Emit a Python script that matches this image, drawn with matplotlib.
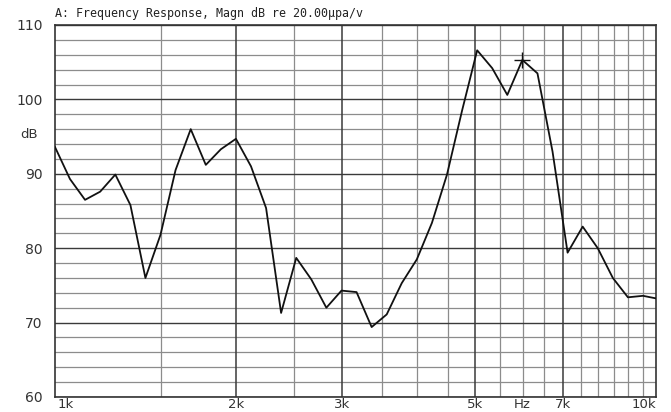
import matplotlib
matplotlib.use("Agg")
import matplotlib.pyplot as plt
from matplotlib.ticker import FixedLocator, NullFormatter

# Frequencies (Hz), 1/12-octave points
freqs = [1000, 1059, 1122, 1189, 1260, 1335, 1414, 1498, 1587, 1682, 1782, 1888,
         2000, 2119, 2245, 2378, 2520, 2670, 2828, 2997, 3175, 3364, 3564, 3775,
         4000, 4238, 4490, 4757, 5040, 5339, 5657, 5993, 6350, 6727, 7127, 7551,
         8000, 8476, 8980, 9514, 10079]
# Magnitude (dB)
magn = [93.6, 89.3, 86.5, 87.6, 89.9, 85.8, 76.0, 81.8, 90.5, 96.0, 91.2, 93.3,
        94.7, 91.0, 85.4, 71.3, 78.7, 75.8, 72.0, 74.3, 74.1, 69.4, 71.1, 75.3,
        78.5, 83.4, 89.9, 98.5, 106.6, 104.2, 100.6, 105.3, 103.5, 93.0, 79.4, 82.9,
        80.0, 76.0, 73.4, 73.6, 73.2]

cursor_f = 5993
cursor_db = 105.3

x_major = [2000, 3000, 5000, 7000]
x_minor = [1500, 2500, 3500, 4000, 4500, 5500, 6000, 6500, 7500, 8000, 8500, 9000, 9500]
x_label_pos = [1000, 2000, 3000, 5000, 6000, 7000, 10000]
x_label_txt = ["1k", "2k", "3k", "5k", "Hz", "7k", "10k"]
y_major = [60, 70, 80, 90, 100, 110]
y_minor = [62, 64, 66, 68, 72, 74, 76, 78, 82, 84, 86, 88, 92, 94, 96, 98, 102, 104, 106, 108]

title = "A: Frequency Response, Magn dB re 20.00\u00b5pa/v"

fig = plt.figure(figsize=(6.71, 4.12), dpi=100)
ax = fig.add_axes([55/671, 1-397/412, (656-55)/671, (397-25)/412])
ax.set_xscale("log")
ax.set_xlim(1000, 10000)
ax.set_ylim(60, 110)

major_c = "#3a3a3a"
minor_c = "#8c8c8c"
for v in y_minor:
    ax.axhline(v, color=minor_c, lw=0.9, zorder=1)
for v in y_major:
    ax.axhline(v, color=major_c, lw=1.0, zorder=1.5)
for v in x_minor:
    ax.axvline(v, color=minor_c, lw=0.9, zorder=1)
for v in x_major:
    ax.axvline(v, color=major_c, lw=1.1, zorder=1.5)

ax.plot(freqs, magn, color="#111111", lw=1.3, zorder=3, clip_on=True)
ax.plot([cursor_f], [cursor_db], marker="+", color="#111111", ms=11, mew=1.0,
        zorder=4, linestyle="none")

for s in ax.spines.values():
    s.set_color("#333333")
    s.set_linewidth(1.2)

ax.xaxis.set_major_locator(FixedLocator([]))
ax.xaxis.set_minor_locator(FixedLocator([]))
ax.xaxis.set_minor_formatter(NullFormatter())
ax.set_yticks(y_major)
ax.set_yticklabels([str(v) for v in y_major])
ax.tick_params(axis="y", length=0, pad=9, labelsize=10, labelcolor="#333333")

tcol = "#333333"
trans = ax.get_xaxis_transform()
base_y = -10.5 / (397 - 25)  # baseline ~10.5 px below the axes bottom
for pos, txt in zip(x_label_pos, x_label_txt):
    ha = "center"
    if txt == "1k":
        ha = "left"
    elif txt == "10k":
        ha = "right"
    ax.text(pos * (1.01 if txt == "1k" else 1.0), base_y, txt, ha=ha, va="baseline",
            fontsize=9.5, color=tcol, transform=trans)

fig.text(29/671, 1-135/412, "dB", ha="center", va="center", fontsize=9.5, color=tcol)
fig.text(55/671, 1-13/412, title, ha="left", va="center", fontsize=8.4,
         family="DejaVu Sans Mono", color="#222222")

fig.savefig("out.png", dpi=100)
